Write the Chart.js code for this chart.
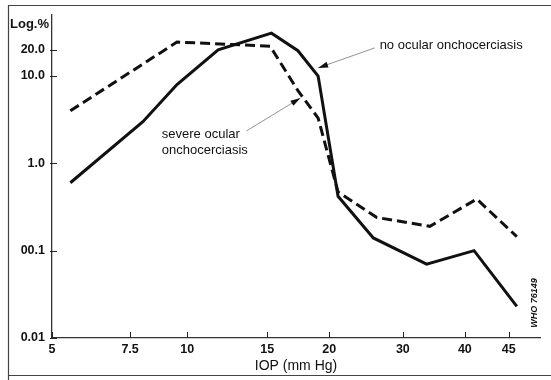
<!DOCTYPE html>
<html>
<head>
<meta charset="utf-8">
<script src="https://cdn.jsdelivr.net/npm/chart.js@4.4.1/dist/chart.umd.min.js"></script>
<style>
  html, body { margin: 0; padding: 0; background: #fff; }
</style>
</head>
<body>
<canvas id="iopChart" width="551" height="380"></canvas>
<script>
// IOP distribution (log %) for two groups
const iopNone = [5.5, 8, 9.5, 11.7, 15.3, 17.3, 19, 21, 25.5, 33.5, 41, 46];
const pctNone = [0.6, 3.0, 8, 20, 31, 19.5, 10, 0.42, 0.14, 0.07, 0.1, 0.023];
const iopSevere = [5.5, 9.5, 15.2, 17.3, 19, 21, 26, 34, 41.3, 46];
const pctSevere = [4.0, 24.5, 22, 6.8, 3.3, 0.47, 0.24, 0.19, 0.39, 0.145];

const xTicks = [5, 7.5, 10, 15, 20, 30, 40, 45];
const xTickLabels = ["5", "7.5", "10", "15", "20", "30", "40", "45"];
const yTicks = [0.01, 0.1, 1, 10, 20];
const yTickLabels = ["0.01", "00.1", "1.0", "10.0", "20.0"];

// the printed x axis is not a true log axis: stretch it piece by piece
const xStops = [[5, 0], [7.5, 0.160], [10, 0.277], [15, 0.441], [20, 0.568],
                [30, 0.719], [40, 0.846], [45, 0.936], [49, 1]];

const FONT = "'Liberation Sans', Arial, sans-serif";

class PiecewiseLogScale extends Chart.Scale {
    determineDataLimits() {
        this.min = xStops[0][0];
        this.max = xStops[xStops.length - 1][0];
    }
    buildTicks() {
        return xTicks.map(v => ({ value: v }));
    }
    getPixelForValue(value) {
        let i = 0;
        while (i < xStops.length - 2 && value > xStops[i + 1][0]) i++;
        const [a, fa] = xStops[i];
        const [b, fb] = xStops[i + 1];
        const t = Math.log(value / a) / Math.log(b / a);
        return this.getPixelForDecimal(fa + t * (fb - fa));
    }
    getValueForPixel(pixel) {
        const d = this.getDecimalForPixel(pixel);
        let i = 0;
        while (i < xStops.length - 2 && d > xStops[i + 1][1]) i++;
        const [a, fa] = xStops[i];
        const [b, fb] = xStops[i + 1];
        return a * Math.pow(b / a, (d - fa) / (fb - fa));
    }
}
PiecewiseLogScale.id = "piecewiseLog";
PiecewiseLogScale.defaults = {};
Chart.register(PiecewiseLogScale);

// callouts, anchored in data units
const notes = [
    { lines: ["no ocular onchocerciasis"], at: [26.4, 22.7], from: [25.7, 21.0], tip: [19.0, 12.4] },
    { lines: ["severe ocular", "onchocerciasis"], at: [8.8, 2.12], from: [13.5, 2.35], tip: [17.5, 5.6] }
];

function arrow(ctx, x0, y0, x1, y1) {
    ctx.strokeStyle = "#777";
    ctx.lineWidth = 0.8;
    ctx.beginPath();
    ctx.moveTo(x0, y0);
    ctx.lineTo(x1, y1);
    ctx.stroke();
    const ang = Math.atan2(y1 - y0, x1 - x0);
    const c = Math.cos(ang), s = Math.sin(ang);
    ctx.fillStyle = "#111";
    ctx.beginPath();
    ctx.moveTo(x1, y1);
    ctx.lineTo(x1 - 10 * c + 3 * s, y1 - 10 * s - 3 * c);
    ctx.lineTo(x1 - 10 * c - 3 * s, y1 - 10 * s + 3 * c);
    ctx.closePath();
    ctx.fill();
}

const decorPlugin = {
    id: "decor",
    afterDraw(chart) {
        const { ctx, chartArea: area, scales: { x, y } } = chart;
        ctx.save();

        // frame of the figure
        ctx.strokeStyle = "#444";
        ctx.lineWidth = 1.2;
        ctx.beginPath();
        ctx.moveTo(8.5, 380);
        ctx.lineTo(8.5, 5.5);
        ctx.lineTo(551, 5.5);
        ctx.moveTo(8.5, 375.5);
        ctx.lineTo(551, 375.5);
        ctx.stroke();

        // inward tick marks
        ctx.strokeStyle = "#222";
        ctx.lineWidth = 1;
        ctx.beginPath();
        xTicks.forEach(v => {
            const px = Math.round(x.getPixelForValue(v)) + 0.5;
            ctx.moveTo(px, area.bottom);
            ctx.lineTo(px, area.bottom - 6);
        });
        yTicks.forEach(v => {
            const py = Math.round(y.getPixelForValue(v)) + 0.5;
            ctx.moveTo(area.left - 2, py);
            ctx.lineTo(area.left + 5, py);
        });
        ctx.stroke();

        // axis caption
        ctx.fillStyle = "#111";
        ctx.font = "bold 13px " + FONT;
        ctx.textAlign = "left";
        ctx.textBaseline = "middle";
        ctx.fillText("Log.%", 10, 24);

        // callouts
        ctx.font = "13px " + FONT;
        notes.forEach(n => {
            arrow(ctx, x.getPixelForValue(n.from[0]), y.getPixelForValue(n.from[1]),
                  x.getPixelForValue(n.tip[0]), y.getPixelForValue(n.tip[1]));
            ctx.fillStyle = "#111";
            const tx = x.getPixelForValue(n.at[0]);
            const ty = y.getPixelForValue(n.at[1]);
            n.lines.forEach((line, i) => ctx.fillText(line, tx, ty + i * 16));
        });

        // figure id
        ctx.save();
        ctx.translate(535, 303);
        ctx.rotate(-Math.PI / 2);
        ctx.textAlign = "center";
        ctx.font = "italic bold 9px " + FONT;
        ctx.fillText("WHO 76149", 0, 0);
        ctx.restore();

        ctx.restore();
    }
};

const toPoints = (xs, ys) => xs.map((v, i) => ({ x: v, y: ys[i] }));

new Chart(document.getElementById("iopChart").getContext("2d"), {
    type: "line",
    data: {
        datasets: [{
            label: "no ocular onchocerciasis",
            data: toPoints(iopNone, pctNone),
            borderColor: "#111",
            borderWidth: 3,
            pointRadius: 0,
            tension: 0
        }, {
            label: "severe ocular onchocerciasis",
            data: toPoints(iopSevere, pctSevere),
            borderColor: "#111",
            borderWidth: 3,
            borderDash: [10, 5],
            pointRadius: 0,
            tension: 0
        }]
    },
    options: {
        responsive: false,
        animation: false,
        events: [],
        layout: { padding: { left: 0, top: 15, right: 11, bottom: 0 } },
        plugins: {
            legend: { display: false },
            tooltip: { enabled: false }
        },
        scales: {
            x: {
                type: "piecewiseLog",
                position: "bottom",
                grid: { display: false, drawTicks: false },
                border: { display: true, color: "#333", width: 1.3 },
                ticks: {
                    callback: (v, i) => xTickLabels[i],
                    font: { family: FONT, size: 12.5, weight: "bold" },
                    color: "#111",
                    padding: 4,
                    autoSkip: false,
                    maxRotation: 0
                },
                title: {
                    display: true,
                    text: "IOP (mm Hg)",
                    font: { family: FONT, size: 14 },
                    color: "#111",
                    padding: { top: 0, bottom: 5 }
                },
                afterFit(scale) { scale.height = 42; }
            },
            y: {
                type: "logarithmic",
                min: 0.01,
                max: 50,
                afterBuildTicks(scale) { scale.ticks = yTicks.map(v => ({ value: v })); },
                grid: { display: false, drawTicks: false },
                border: { display: true, color: "#333", width: 1.3 },
                ticks: {
                    callback: (v, i) => yTickLabels[i],
                    font: { family: FONT, size: 12.5, weight: "bold" },
                    color: "#111",
                    padding: 7
                },
                afterFit(scale) { scale.width = 52; }
            }
        }
    },
    plugins: [decorPlugin]
});
</script>
</body>
</html>
